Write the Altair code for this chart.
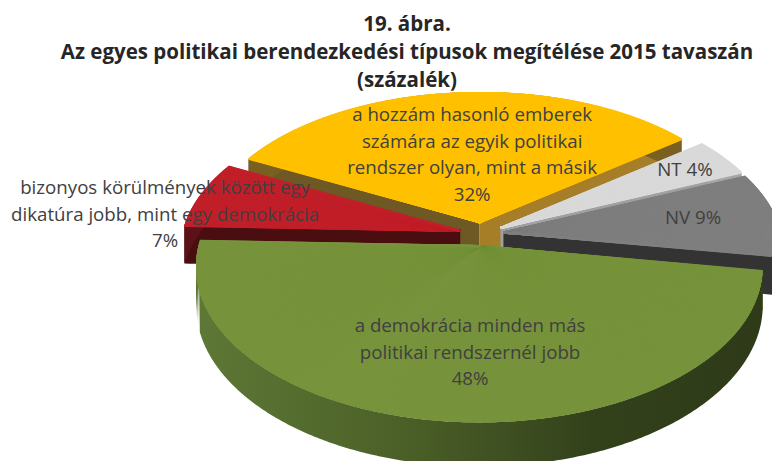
import altair as alt
import pandas as pd

# ---- data ----
keys = ["demo", "dikt", "mind", "NT", "NV"]
categories = [
    "a demokrácia minden más politikai rendszernél jobb",
    "bizonyos körülmények között egy dikatúra jobb, mint egy demokrácia",
    "a hozzám hasonló emberek számára az egyik politikai rendszer olyan, mint a másik",
    "NT",
    "NV",
]
values = [48, 7, 32, 4, 9]
label_lines = [
    ["a demokrácia minden más", "politikai rendszernél jobb"],
    ["bizonyos körülmények között egy", "dikatúra jobb, mint egy demokrácia"],
    ["a hozzám hasonló emberek", "számára az egyik politikai", "rendszer olyan, mint a másik"],
    [],
    [],
]
title_lines = [
    "19. ábra.",
    "Az egyes politikai berendezkedési típusok megítélése 2015 tavaszán",
    "(százalék)",
]

# ---- styles / layout ----
top_colors = ["#77933C", "#C0202A", "#FFC000", "#D9D9D9", "#7F7F7F"]
start_wall = ["#3E4E20", "#4A0E11", "#6E5824", "#9A9A9A", "#3A3A3A"]
end_wall = ["#3E4E20", "#4A0E11", "#A67E28", "#A0A0A0", "#333333"]
rim_wall = ["#4A5E27", "#5A1216", "#7A6020", "#A6A6A6", "#3C3C3C"]

CX, CY = 481.6, 234.0      # projected pie centre (page px)
RX, RY = 278.0, 150.0      # projected radii
Q = 0.13                   # perspective strength
E = 0.08                   # explosion (fraction of radius)
D = 38.0                   # thickness
START = 99.2               # first slice angle (deg, clockwise from top)
LH = 26.5                  # label line height
TITLE_Y = [22.5, 50.5, 78.5]   # title baselines (plot px)
TITLE_FS = 20.5

label_r = [0.72, 1.165, 0.566, 0.897, 0.779]
label_a = [183.0, 276.4, 356.3, 59.7, 82.0]

df = pd.DataFrame({"key": keys, "cat": categories, "value": values, "order": range(len(keys))})
texts, nlines = [], []
for lines, v, k in zip(label_lines, values, keys):
    if lines:
        texts.append("\n".join(lines + [f"{v}%"]))
        nlines.append(len(lines) + 1)
    else:
        texts.append(f"{k} {v}%")
        nlines.append(1)
lab = pd.DataFrame({"key": keys, "text": texts, "n": nlines, "lr": label_r, "la": label_a})


def px(X, Y):
    return f"{CX} + {RX}*({X})/(1+{Q}*({Y}))"


def py(X, Y):
    return f"{CY} - {RY}*({Y})/(1+{Q}*({Y}))"


xs = alt.Scale(domain=[8, 772], nice=False, zero=False)
ys = alt.Scale(domain=[8, 461], nice=False, zero=False, reverse=True)

base = (
    alt.Chart(df)
    .transform_window(cum="sum(value)", sort=[alt.SortField("order")], frame=[None, 0])
    .transform_joinaggregate(total="sum(value)")
    .transform_calculate(a0=f"{START} + 360*(datum.cum - datum.value)/datum.total")
    .transform_calculate(a1=f"{START} + 360*datum.cum/datum.total")
    .transform_calculate(am="(datum.a0 + datum.a1)/2")
    .transform_calculate(ex=f"{E}*sin(datum.am*PI/180)")
    .transform_calculate(ey=f"{E}*cos(datum.am*PI/180)")
)

layers = []
# walls, back to front
draw_order = [2, 3, 1, 4, 0]
for i in draw_order:
    k = keys[i]
    b = base.transform_filter(f"datum.key == '{k}'")
    for edge, col in (("a0", start_wall[i]), ("a1", end_wall[i])):
        w = (
            b.transform_calculate(ts="sequence(0, 1.0001, 0.02)")
            .transform_flatten(["ts"])
            .transform_calculate(X=f"datum.ex + datum.ts*sin(datum.{edge}*PI/180)")
            .transform_calculate(Y=f"datum.ey + datum.ts*cos(datum.{edge}*PI/180)")
            .transform_calculate(sx=px("datum.X", "datum.Y"))
            .transform_calculate(sy=py("datum.X", "datum.Y"))
            .transform_calculate(sy2=f"datum.sy + {D}/(1+{Q}*datum.Y)")
            .mark_area(orient="vertical", color=col, opacity=1)
            .encode(
                x=alt.X("sx:Q", scale=xs, axis=None),
                y=alt.Y("sy:Q", scale=ys, axis=None, stack=None),
                y2="sy2:Q",
            )
        )
        layers.append(w)
    if k == "demo":
        col = alt.Gradient(
            gradient="linear",
            stops=[
                alt.GradientStop(color="#5E7836", offset=0),
                alt.GradientStop(color="#4C6128", offset=0.35),
                alt.GradientStop(color="#33411B", offset=0.7),
                alt.GradientStop(color="#2E3A18", offset=1),
            ],
            x1=0, x2=1, y1=0, y2=0,
        )
    else:
        col = rim_wall[i]
    r = (
        b.transform_calculate(offs="sequence(0, datum.a1 - datum.a0 + 0.0001, 0.5)")
        .transform_flatten(["offs"])
        .transform_calculate(ang="min(datum.a0 + datum.offs, datum.a1)*PI/180")
        .transform_calculate(X="datum.ex + sin(datum.ang)")
        .transform_calculate(Y="datum.ey + cos(datum.ang)")
        .transform_calculate(sx=px("datum.X", "datum.Y"))
        .transform_calculate(sy=py("datum.X", "datum.Y"))
        .transform_calculate(sy2=f"datum.sy + {D}/(1+{Q}*datum.Y)")
        .mark_area(orient="vertical", color=col, opacity=1)
        .encode(
            x=alt.X("sx:Q", scale=xs, axis=None),
            y=alt.Y("sy:Q", scale=ys, axis=None, stack=None),
            y2="sy2:Q",
        )
    )
    layers.append(r)

# top faces: fan of radial rules
tops = (
    base.transform_calculate(offs="sequence(0, datum.a1 - datum.a0 + 0.0001, 0.15)")
    .transform_flatten(["offs"])
    .transform_calculate(ang="min(datum.a0 + datum.offs, datum.a1)*PI/180")
    .transform_calculate(X="datum.ex + sin(datum.ang)")
    .transform_calculate(Y="datum.ey + cos(datum.ang)")
    .transform_calculate(sx=px("datum.X", "datum.Y"))
    .transform_calculate(sy=py("datum.X", "datum.Y"))
    .transform_calculate(vx=px("datum.ex", "datum.ey"))
    .transform_calculate(vy=py("datum.ex", "datum.ey"))
    .mark_rule(strokeWidth=2.2)
    .encode(
        x=alt.X("vx:Q", scale=xs, axis=None),
        y=alt.Y("vy:Q", scale=ys, axis=None),
        x2="sx:Q",
        y2="sy:Q",
        color=alt.Color("key:N", scale=alt.Scale(domain=keys, range=top_colors), legend=None),
    )
)
layers.append(tops)

labels = (
    alt.Chart(lab)
    .transform_calculate(LX="datum.lr*sin(datum.la*PI/180)")
    .transform_calculate(LY="datum.lr*cos(datum.la*PI/180)")
    .transform_calculate(lx=px("datum.LX", "datum.LY"))
    .transform_calculate(ly=py("datum.LX", "datum.LY") + f" - (datum.n - 1)*{LH}/2")
    .mark_text(font="Open Sans", fontSize=18.7, color="#404040", lineBreak="\n",
               lineHeight=LH, align="center", baseline="middle")
    .encode(
        x=alt.X("lx:Q", scale=xs, axis=None),
        y=alt.Y("ly:Q", scale=ys, axis=None),
        text="text:N",
    )
)
layers.append(labels)

for line, ty in zip(title_lines, TITLE_Y):
    t = (
        alt.Chart(pd.DataFrame({"t": [line]}))
        .mark_text(font="Open Sans", fontSize=TITLE_FS, fontWeight="bold", color="#262626",
                   align="center", baseline="alphabetic")
        .encode(x=alt.value(399), y=alt.value(ty), text="t:N")
    )
    layers.append(t)

chart = (
    alt.layer(*layers)
    .properties(width=764, height=453, padding=0, autosize=alt.AutoSizeParams(type="none"))
    .configure_view(stroke=None)
)
chart.save("out.html", embed_options={"renderer": "svg", "actions": False})
